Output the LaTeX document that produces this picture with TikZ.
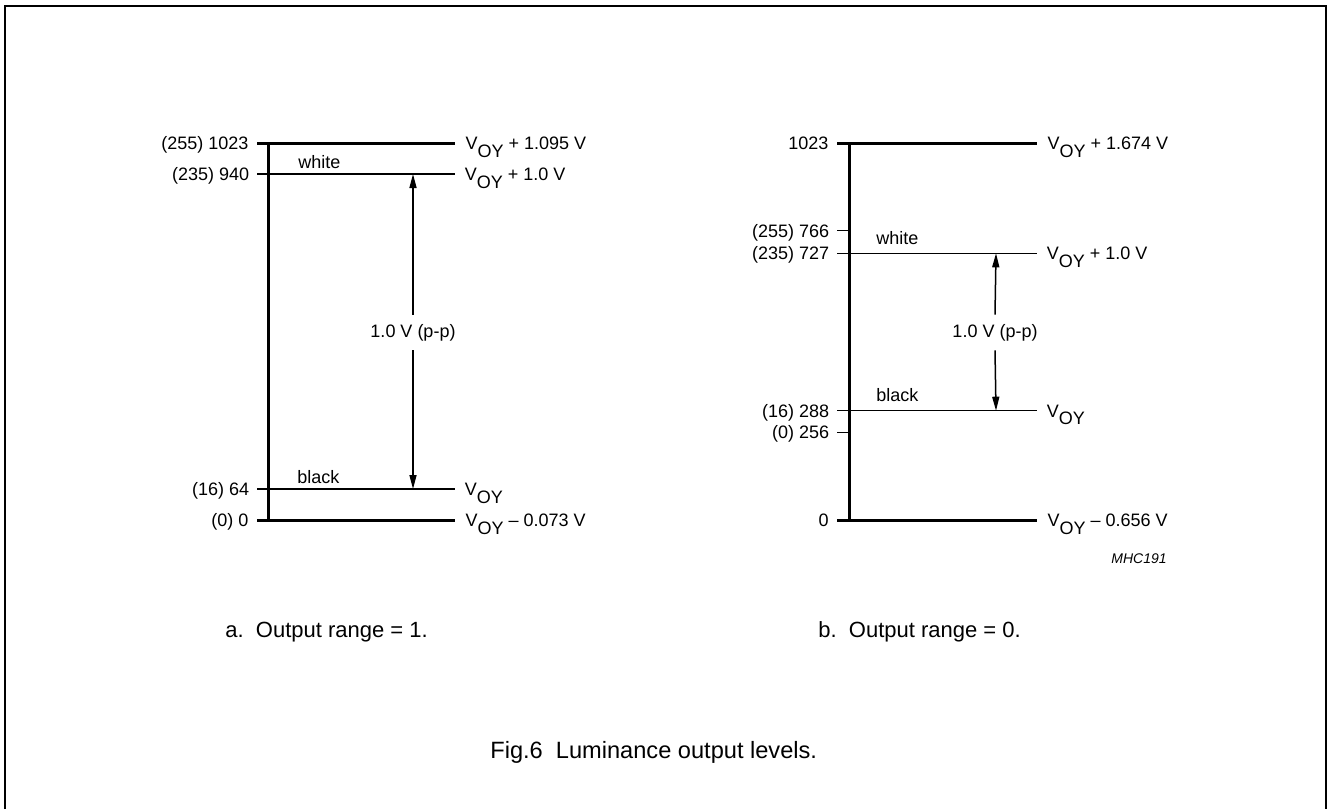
\documentclass[tikz,border=0pt]{standalone}
\usepackage{fontspec}
\setmainfont{Liberation Sans}
\usetikzlibrary{arrows.meta,positioning}

\tikzset{
  lvl/.style={line width=0.75pt},
  lvlbold/.style={line width=1.5pt},
  txt/.style={font=\fontsize{9}{10.8}\selectfont, inner sep=0pt},
  codelbl/.style={txt, anchor=base east, xshift=-3.5pt, yshift=-3.2pt},
  voltlbl/.style={txt, anchor=base west, xshift=4.5pt, yshift=-3.2pt},
  pplbl/.style={txt, minimum height=17.5pt},
  caption/.style={font=\fontsize{11}{13.2}\selectfont, inner sep=0pt, anchor=base west}
}
\newcommand{\voy}{V\raisebox{-3.8pt}{OY}}

\begin{document}
\begin{tikzpicture}[x=0.5pt, y=-0.5pt, >={Triangle[length=7pt,width=3.5pt]}]
\useasboundingbox (0,0) rectangle (1327,809);
% frame, open at the bottom
\draw[line width=1pt] (5,809) -- (5,5.5) -- (1325.5,5.5) -- (1325.5,809);

% ---- a. Output range = 1
\path
  (268,143) coordinate (aTop)
  (268,520) coordinate (aBot)
  (257,143) coordinate (a1023L)  (455,143) coordinate (a1023R)
  (257,174) coordinate (a940L)   (455,174) coordinate (a940R)
  (257,489) coordinate (a64L)    (455,489) coordinate (a64R)
  (257,520) coordinate (a0L)     (455,520) coordinate (a0R)
  (413,174) coordinate (aWhite)
  (413,489) coordinate (aBlack)
  ;

\draw[lvlbold] (aTop) -- (aBot);
\draw[lvlbold] (a1023L) node[codelbl] {(255) 1023} -- (a1023R) node[voltlbl] {\voy{} + 1.095 V};
\draw[lvl] (a940L) node[codelbl] {(235) 940} -- (a940R) node[voltlbl] {\voy{} + 1.0 V};
\draw[lvl] (a64L) node[codelbl] {(16) 64} -- (a64R) node[voltlbl] {\voy};
\draw[lvlbold] (a0L) node[codelbl] {(0) 0} -- (a0R) node[voltlbl] {\voy{} -- 0.073 V};

\node[txt, anchor=base west] (aWhiteTxt) at (298,168) {white};
\node[txt, anchor=base west] (aBlackTxt) at (297,483) {black};

\node[pplbl] (aPP) at (413,332.5) {1.0 V (p-p)};
\draw[lvl, ->] (aPP.north) -- (aWhite);
\draw[lvl, ->] (aPP.south) -- (aBlack);

% ---- b. Output range = 0
\path
  (849,143) coordinate (bTop)
  (849,520.5) coordinate (bBot)
  (837,143) coordinate (b1023L)  (1037,143) coordinate (b1023R)
  (837,230.7) coordinate (b766L) (849,230.7) coordinate (b766R)
  (837,253.3) coordinate (b727L) (1037,253.3) coordinate (b727R)
  (837,410.7) coordinate (b288L) (1037,410.7) coordinate (b288R)
  (837,432.3) coordinate (b256L) (849,432.3) coordinate (b256R)
  (837,520.5) coordinate (b0L)   (1037,520.5) coordinate (b0R)
  (996,253.3) coordinate (bWhite)
  (996,410.7) coordinate (bBlack)
  ;

\draw[lvlbold] (bTop) -- (bBot);
\draw[lvlbold] (b1023L) node[codelbl] {1023} -- (b1023R) node[voltlbl] {\voy{} + 1.674 V};
\draw[lvl] (b766L) node[codelbl] {(255) 766} -- (b766R);
\draw[lvl] (b727L) node[codelbl] {(235) 727} -- (b727R) node[voltlbl] {\voy{} + 1.0 V};
\draw[lvl] (b288L) node[codelbl] {(16) 288} -- (b288R) node[voltlbl] {\voy};
\draw[lvl] (b256L) node[codelbl] {(0) 256} -- (b256R);
\draw[lvlbold] (b0L) node[codelbl] {0} -- (b0R) node[voltlbl] {\voy{} -- 0.656 V};

\node[txt, anchor=base west] (bWhiteTxt) at (876,244) {white};
\node[txt, anchor=base west] (bBlackTxt) at (876,401) {black};

\node[pplbl] (bPP) at (995,332.5) {1.0 V (p-p)};
\draw[lvl, ->] (bPP.north) -- (bWhite);
\draw[lvl, ->] (bPP.south) -- (bBlack);

\node[txt, anchor=base east, font=\fontsize{7}{8.4}\selectfont\itshape] (code) at (1167,563) {MHC191};

% captions
\node[caption] (capA) at (225,637) {a.\ \ Output range = 1.};
\node[caption] (capB) at (818,637) {b.\ \ Output range = 0.};
\node[caption, font=\fontsize{11.8}{14}\selectfont] (capFig) at (490,758) {Fig.6\ \ Luminance output levels.};
\end{tikzpicture}
\end{document}
